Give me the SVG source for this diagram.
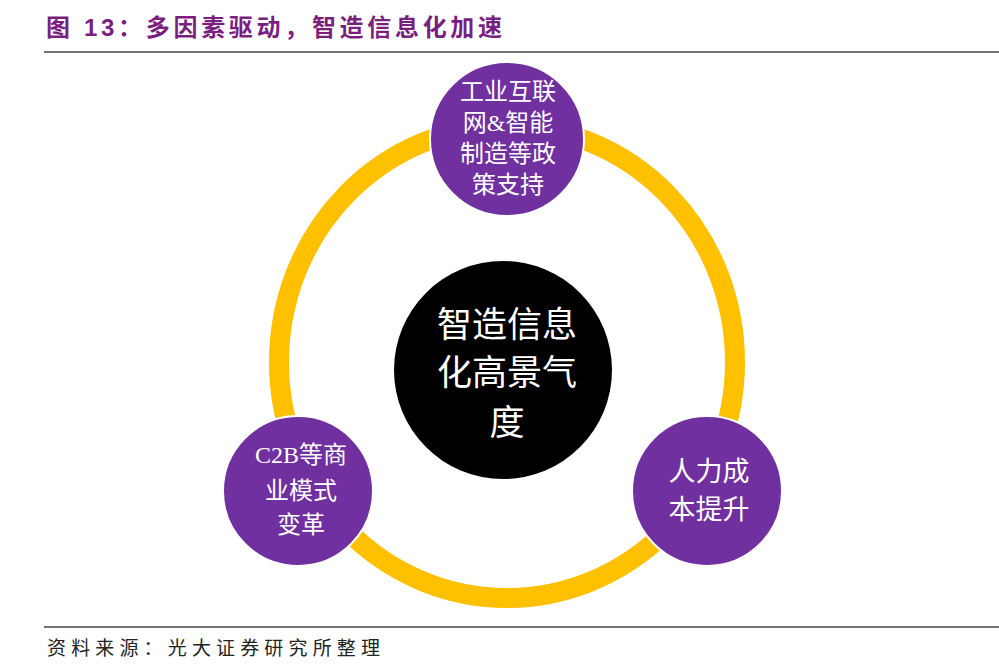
<svg xmlns="http://www.w3.org/2000/svg" width="999" height="666" viewBox="0 0 999 666">
<style>
.title{font-family:"Liberation Sans","Noto Sans CJK SC",sans-serif;font-size:24px;font-weight:bold;fill:#7B1F7F}
.foot{font-family:"Liberation Serif","Noto Sans CJK SC",serif;font-size:19px;fill:#222}
.node{fill:#7030A0;stroke:#fff;stroke-width:2}
.t{font-family:"Liberation Serif","Noto Sans CJK SC",serif;fill:#fff;text-anchor:middle;dominant-baseline:central}
</style>
<rect width="999" height="666" fill="#fff"/>
<text class="title" x="46" y="36" textLength="456" lengthAdjust="spacing">图 13：多因素驱动，智造信息化加速</text>
<line x1="44" y1="52" x2="999" y2="52" stroke="#444" stroke-width="1.5"/>
<g id="connectors">
<ellipse cx="507" cy="362" rx="228" ry="236" fill="none" stroke="#FFC000" stroke-width="20"/>
</g>
<g id="center">
<circle cx="503" cy="370" r="109" fill="#000"/>
<text class="t" font-size="35"><tspan x="507" y="325">智造信息</tspan><tspan x="507" y="373">化高景气</tspan><tspan x="507" y="423">度</tspan></text>
</g>
<g id="top">
<circle class="node" cx="507" cy="139" r="77"/>
<text class="t" font-size="24"><tspan x="508" y="92">工业互联</tspan><tspan x="508" y="123">网&amp;智能</tspan><tspan x="508" y="154">制造等政</tspan><tspan x="508" y="185">策支持</tspan></text>
</g>
<g id="left">
<circle class="node" cx="298" cy="491" r="75"/>
<text class="t" font-size="24"><tspan x="301" y="455">C2B等商</tspan><tspan x="301" y="491">业模式</tspan><tspan x="301" y="525">变革</tspan></text>
</g>
<g id="right">
<circle class="node" cx="707" cy="491" r="75"/>
<text class="t" font-size="27"><tspan x="709" y="472">人力成</tspan><tspan x="709" y="510">本提升</tspan></text>
</g>
<line x1="44" y1="627" x2="999" y2="627" stroke="#444" stroke-width="1.5"/>
<text class="foot" x="47" y="655" textLength="333" lengthAdjust="spacing">资料来源：光大证券研究所整理</text>
</svg>
